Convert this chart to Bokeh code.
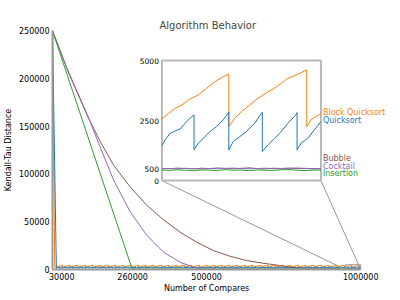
from bokeh.plotting import figure
from bokeh.models import (Range1d, FixedTicker, NumeralTickFormatter, ColumnDataSource, LabelSet,
                          LinearAxis)
from bokeh.core.properties import field, value
from bokeh.embed import file_html
from bokeh.resources import INLINE

# ---------------- data ----------------
x_ticks = [30000, 260000, 500000, 1000000]
y_ticks = [0, 50000, 100000, 150000, 200000, 250000]
inset_ticks = [0, 500, 2500, 5000]
inset_xlim = [950000, 1000000]
inset_ylim = [0, 5000]
x_title = "Number of Compares"
y_title = "Kendall-Tau Distance"

names = ["Block Quicksort", "Quicksort", "Bubble", "Cocktail", "Insertion"]
colors = ["#ff7f0e", "#1f77b4", "#8c564b", "#9467bd", "#2ca02c"]
label_y = [2830, 2500, 917, 583, 292]

# Block Quicksort
bq_head_x = [0, 7400]
bq_head_y = [249500, 2320]
bq_drop_x = [32300, 57100, 81700, 106300, 131100, 155900, 180500, 205100, 229900, 254700,
             279300, 303900, 328700, 353500, 378100, 402700, 427500, 452300, 476900, 501500,
             526300, 551100, 575700, 600300, 625100, 649900, 674500, 699100, 723900, 748700,
             773300, 797900, 822700, 847500, 872100, 896700, 921500, 946300]
bq_peak = [4520, 4610, 4480, 4570, 4650, 4430, 4540, 4600, 4490, 4560,
           4680, 4450, 4530, 4620, 4470, 4580, 4640, 4420, 4550, 4600,
           4500, 4570, 4660, 4440, 4530, 4610, 4480, 4590, 4630, 4460,
           4540, 4600, 4510, 4570, 4650, 4450, 4560, 4590]
bq_trough = [2280, 2350, 2210, 2320, 2260, 2380, 2240, 2300, 2360, 2220,
             2310, 2270, 2340, 2230, 2290, 2370, 2250, 2330, 2200, 2310,
             2280, 2350, 2240, 2300, 2360, 2260, 2320, 2210, 2290, 2340,
             2250, 2310, 2270, 2380, 2230, 2300, 2330, 2250]
bq_tail_x = [950000, 952100, 954150, 956250, 958850, 961450, 964060, 966660, 969280, 971030,
             971030, 972900, 975000, 977600, 980200, 983340, 985400, 989600, 992700, 995530,
             995530, 996880, 998440, 1000000]
bq_tail_y = [2570, 2800, 3010, 3150, 3400, 3570, 3850, 4125, 4330, 4440,
             2250, 2600, 2875, 3150, 3430, 3700, 3850, 4260, 4430, 4610,
             2250, 2530, 2670, 2800]

# Quicksort
qs_head_x = [0, 12500]
qs_head_y = [249500, 1250]
qs_drop_x = [22800, 33200, 43800, 54200, 64600, 75400, 86100, 97000, 107800, 118500,
             129400, 140200, 151000, 161700, 172600, 183400, 194100, 205000, 215800, 226500,
             237400, 248200, 259000, 269700, 280600, 291400, 302100, 313000, 323800, 334500,
             345400, 356200, 367000, 377700, 388600, 399400, 410100, 421000, 431800, 442500,
             453400, 464200, 475000, 485700, 496600, 507400, 518100, 529000, 539800, 550500,
             561400, 572200, 583000, 593700, 604600, 615400, 626100, 637000, 647800, 658500,
             669400, 680200, 691000, 701700, 712600, 723400, 734100, 745000, 755800, 766500,
             777400, 788200, 799000, 809700, 820600, 831400, 842100, 853000, 863800, 874500,
             885400, 896200, 907000, 917700, 928500, 938900, 949300]
qs_peak = [2780, 2850, 2700, 2900, 2760, 2820, 2680, 2880, 2740, 2930,
           2710, 2800, 2860, 2690, 2770, 2910, 2730, 2840, 2790, 2670,
           2890, 2750, 2810, 2720, 2870, 2780, 2940, 2700, 2830, 2760,
           2850, 2690, 2800, 2920, 2740, 2810, 2680, 2880, 2770, 2830,
           2710, 2900, 2760, 2840, 2690, 2800, 2870, 2730, 2950, 2780,
           2820, 2700, 2860, 2750, 2890, 2720, 2810, 2780, 2930, 2690,
           2840, 2770, 2710, 2880, 2800, 2740, 2910, 2760, 2830, 2700,
           2870, 2790, 2720, 2850, 2680, 2900, 2750, 2820, 2770, 2860,
           2730, 2810, 2890, 2700, 2840, 2770, 2800]
qs_trough = [1260, 1210, 1300, 1180, 1270, 1330, 1220, 1250, 1190, 1310,
             1240, 1280, 1170, 1320, 1230, 1260, 1200, 1290, 1340, 1210,
             1270, 1190, 1310, 1250, 1220, 1300, 1180, 1260, 1330, 1240,
             1200, 1290, 1230, 1270, 1350, 1210, 1250, 1190, 1320, 1280,
             1230, 1260, 1170, 1300, 1240, 1280, 1210, 1330, 1250, 1190,
             1310, 1220, 1270, 1240, 1180, 1290, 1260, 1200, 1320, 1250,
             1210, 1280, 1230, 1340, 1260, 1190, 1300, 1240, 1270, 1220,
             1290, 1250, 1200, 1310, 1230, 1270, 1180, 1260, 1330, 1240,
             1280, 1210, 1260, 1300, 1230, 1270, 1250]
qs_tail_x = [950000, 951030, 952600, 954150, 955720, 957280, 958850, 960100,
             960100, 961450, 963030, 965090, 967190, 969280, 971030,
             971030, 972410, 974470, 976560, 979160, 981560,
             981560, 983340, 985400, 987500, 989600, 991660, 992500,
             992500, 993750, 995840, 997910, 1000000]
qs_tail_y = [1460, 1700, 1970, 2070, 2150, 2390, 2600, 2740,
             1280, 1560, 1760, 2040, 2250, 2530, 2850,
             1280, 1625, 1830, 2040, 2390, 2850,
             1210, 1490, 1760, 2040, 2390, 2670, 2830,
             1280, 1560, 1760, 2110, 2460]

# common x grid of the inset window for the slow sorts
inset_grid_x = [950000, 952500, 955000, 957500, 960000, 962500, 965000, 967500, 970000, 972500,
                975000, 977500, 980000, 982500, 985000, 987500, 990000, 992500, 995000, 997500,
                1000000]

# Bubble
bub_x = [0, 16100, 48400, 112900, 155900, 199000, 252600, 306500, 360200, 414000,
         467700, 521500, 575300, 629000, 682800, 736500, 780000, 820000, 870000, 930000]
bub_y = [249500, 236000, 208500, 161000, 133200, 108800, 86100, 67000, 52000, 39000,
         28600, 19900, 13900, 9400, 6600, 4200, 2200, 900, 560, 505]
bub_tail_y = [510, 495, 520, 505, 490, 515, 500, 525, 505, 495,
              510, 530, 500, 490, 515, 505, 520, 500, 510, 495, 505]

# Cocktail
coc_x = [0, 16100, 48400, 112900, 155900, 199000, 252700, 306500, 360200, 414000,
         467700, 500000, 560000, 620000, 680000, 740000, 800000, 860000, 920000]
coc_y = [249500, 236500, 209500, 162000, 127000, 93000, 60000, 35600, 18100, 7600,
         1400, 600, 500, 510, 490, 505, 500, 515, 495]
coc_tail_y = [495, 505, 490, 510, 500, 485, 505, 495, 510, 520,
              500, 490, 505, 515, 495, 500, 510, 525, 505, 495, 500]

# Insertion
ins_x = [0, 258000, 272000, 330000, 400000, 480000, 560000,
         640000, 720000, 800000, 880000, 930000]
ins_y = [249500, 900, 470, 440, 430, 445, 425,
         440, 435, 420, 445, 430]
ins_tail_y = [440, 425, 450, 430, 415, 445, 435, 420, 455, 430,
              440, 410, 445, 430, 425, 450, 460, 430, 415, 440, 435]

# ---------------- build series ----------------
def sawtooth(head_x, head_y, drops, peaks, troughs, tail_x, tail_y):
    xs, ys = list(head_x), list(head_y)
    for d, pk, tr in zip(drops, peaks, troughs):
        xs += [d, d]
        ys += [pk, tr]
    return xs + list(tail_x), ys + list(tail_y)

series = [
    sawtooth(bq_head_x, bq_head_y, bq_drop_x, bq_peak, bq_trough, bq_tail_x, bq_tail_y),
    sawtooth(qs_head_x, qs_head_y, qs_drop_x, qs_peak, qs_trough, qs_tail_x, qs_tail_y),
    (bub_x + inset_grid_x, bub_y + bub_tail_y),
    (coc_x + inset_grid_x, coc_y + coc_tail_y),
    (ins_x + inset_grid_x, ins_y + ins_tail_y),
]

# ---------------- layout ----------------
W, H = 400, 300
BL, BR, BT, BB = 50, 5, 30, 31
FONT = "DejaVu Sans"
X0, X1 = 0, 1000000
Y0, Y1 = 0, 250000
AXW = 310                 # pixel width of the [X0, X1] span
XR1 = X1 + (W - BL - BR - AXW) / AXW * (X1 - X0)   # extra room on the right for the labels
# inset placement in axes fraction of [X0,X1] x [Y0,Y1]: left, bottom, width, height
inset_l, inset_b, inset_w, inset_h = 0.355, 0.372, 0.516, 0.502

p = figure(width=W, height=H, output_backend="svg", toolbar_location=None,
           x_range=Range1d(X0, XR1), y_range=Range1d(Y0, Y1),
           min_border_left=BL, min_border_right=BR, min_border_top=BT, min_border_bottom=BB,
           title="Algorithm Behavior")
p.title.align = "left"
p.title.offset = 107
p.title.text_font = FONT
p.title.text_font_size = "10px"
p.title.text_font_style = "normal"
p.title.standoff = 0
p.xgrid.visible = False
p.ygrid.visible = False
p.outline_line_color = None
p.background_fill_color = "white"
p.border_fill_color = "white"

for ax in (p.xaxis, p.yaxis):
    ax.axis_line_color = "#999999"
    ax.axis_line_width = 2
    ax.major_tick_in = 0
    ax.major_tick_out = 0
    ax.minor_tick_in = 0
    ax.minor_tick_out = 0
    ax.major_label_text_font = FONT
    ax.major_label_text_font_size = "8px"
    ax.major_label_text_color = "black"
    ax.major_label_standoff = 3
    ax.formatter = NumeralTickFormatter(format="0")
    ax.axis_label_text_font = FONT
    ax.axis_label_text_font_size = "8px"
    ax.axis_label_text_font_style = "normal"
    ax.axis_label_text_color = "black"
p.xaxis.ticker = FixedTicker(ticks=x_ticks)
p.xaxis.bounds = (X0, X1)
p.yaxis.ticker = FixedTicker(ticks=y_ticks)
p.yaxis.axis_label = y_title
p.yaxis.axis_label_standoff = 3

# x title, centred under the [X0, X1] span
xmid = (X0 + X1) // 2
xlab = LinearAxis(ticker=FixedTicker(ticks=[xmid]), major_label_overrides={xmid: x_title},
                  axis_line_color=None, major_tick_in=0, major_tick_out=0,
                  minor_tick_in=0, minor_tick_out=0, major_label_standoff=1,
                  major_label_text_font=FONT, major_label_text_font_size="8px",
                  major_label_text_color="black")
p.add_layout(xlab, "below")

# main lines
for (xs, ys), c in zip(series, colors):
    p.line(xs, ys, line_color=c, line_width=1)

# inset ranges: map inset limits onto the inset box
bx0 = X0 + inset_l * (X1 - X0)
bx1 = X0 + (inset_l + inset_w) * (X1 - X0)
by0 = Y0 + inset_b * (Y1 - Y0)
by1 = Y0 + (inset_b + inset_h) * (Y1 - Y0)
kx = (inset_xlim[1] - inset_xlim[0]) / (bx1 - bx0)
ky = (inset_ylim[1] - inset_ylim[0]) / (by1 - by0)
p.extra_x_ranges = {"inset": Range1d(inset_xlim[0] - (bx0 - X0) * kx, inset_xlim[0] + (XR1 - bx0) * kx)}
p.extra_y_ranges = {"inset": Range1d(inset_ylim[0] - (by0 - Y0) * ky, inset_ylim[0] + (Y1 - by0) * ky)}

# zoom indicator and connectors
p.quad(left=[inset_xlim[0]], right=[inset_xlim[1]], bottom=[inset_ylim[0]], top=[inset_ylim[1]],
       fill_color=None, line_color="#999999", line_width=1)
p.segment(x0=[bx0, bx1], y0=[by0, by0],
          x1=[inset_xlim[0], inset_xlim[1]], y1=[inset_ylim[0], inset_ylim[0]],
          line_color="#999999", line_width=1)

# inset box
p.quad(left=[inset_xlim[0]], right=[inset_xlim[1]], bottom=[inset_ylim[0]], top=[inset_ylim[1]],
       x_range_name="inset", y_range_name="inset",
       fill_color="white", line_color="#b8b8b8", line_width=2)

for (xs, ys), c in zip(series, colors):
    pts = [(a, b) for a, b in zip(xs, ys) if a >= inset_xlim[0]]
    p.line([a for a, _ in pts], [b for _, b in pts], line_color=c, line_width=1,
           x_range_name="inset", y_range_name="inset")

# inset tick labels
tick_src = ColumnDataSource(dict(x=[inset_xlim[0]] * len(inset_ticks), y=inset_ticks,
                                 t=[str(t) for t in inset_ticks]))
p.add_layout(LabelSet(x="x", y="y", text="t", source=tick_src, x_range_name="inset",
                      y_range_name="inset", x_offset=-3, text_align="right",
                      text_baseline="middle", text_font=value(FONT), text_font_size="7.5px",
                      text_color="black"))

# series labels at the end of the inset lines
lab_src = ColumnDataSource(dict(x=[inset_xlim[1]] * len(names), y=label_y, t=names, c=colors))
p.add_layout(LabelSet(x="x", y="y", text="t", source=lab_src, x_range_name="inset",
                      y_range_name="inset", x_offset=2, text_align="left",
                      text_baseline="middle", text_font=value(FONT), text_font_size="8px",
                      text_color=field("c")))

open("out.html", "w").write(file_html(p, INLINE))
